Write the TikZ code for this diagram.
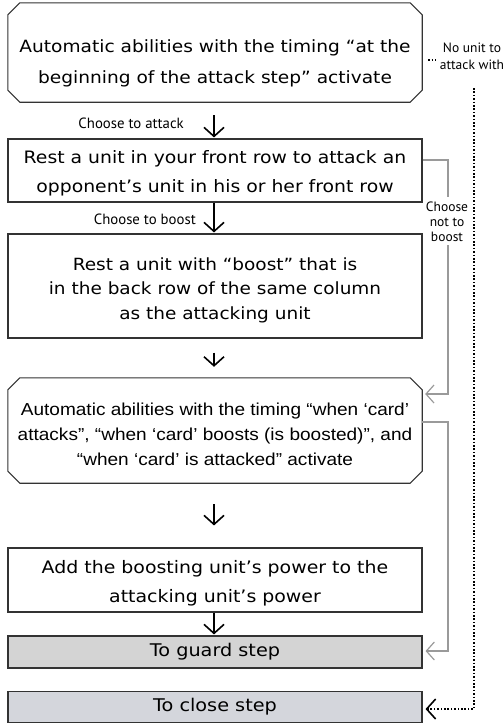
\documentclass[tikz,border=0pt]{standalone}
\usepackage{fontspec}
\setmainfont{DejaVu Sans}
\newfontfamily\boxfont[FakeStretch=1.1]{DejaVu Sans}
\newfontfamily\narrowfont[FakeStretch=1.1]{Liberation Sans}
\newfontfamily\notefont{PT Sans}
\usetikzlibrary{arrows.meta}

\definecolor{edge}{HTML}{333333}
\definecolor{guide}{HTML}{9A9A9A}
\definecolor{guardfill}{HTML}{D4D4D4}
\definecolor{closefill}{HTML}{D4D6DC}

% outline of a box with cut corners around an anchor node
\newcommand{\cutcorners}[1]{%
  \draw[boxline] ([xshift=12pt]#1.north west) -- ([xshift=-12pt]#1.north east)
    -- ([yshift=-12pt]#1.north east) -- ([yshift=12pt]#1.south east)
    -- ([xshift=-12pt]#1.south east) -- ([xshift=12pt]#1.south west)
    -- ([yshift=12pt]#1.south west) -- ([yshift=-12pt]#1.north west) -- cycle;}

\begin{document}
\begin{tikzpicture}[x=1pt,y=-1pt,
  boxline/.style={draw=edge, line width=1.1pt},
  frame/.style={rectangle, inner sep=0pt, minimum width=414pt},
  plainbox/.style={frame, boxline},
  boxtext/.style={align=center, inner sep=0pt},
  note/.style={font=\notefont\fontsize{14.8}{15}\selectfont, align=center, inner sep=0pt},
  sidenote/.style={font=\notefont\fontsize{13.5}{15}\selectfont, align=center, inner sep=0pt},
  flow/.style={line width=1.6pt, -{Straight Barb[length=9pt,width=20pt,line width=1.6pt]}},
  bypass/.style={guide, line width=1.2pt},
  bypassarrow/.style={bypass, -{Straight Barb[length=8pt,width=18pt,line width=1.2pt]}},
  skip/.style={line width=1.6pt, dash pattern=on 1.6pt off 1.8pt},
  skiparrow/.style={skip, -{Straight Barb[length=9pt,width=20pt,line width=1.6pt]}}
]
\useasboundingbox (0,0) rectangle (504,724);

% boxes of the attack step
\node[frame, minimum height=99pt] (b1) at (215,52.5) {};
\cutcorners{b1}
\node[boxtext, font=\boxfont\fontsize{16.9}{31}\selectfont] (b1t) at (215,63.5)
  {Automatic abilities with the timing “at the\\beginning of the attack step” activate};

\node[plainbox, minimum height=63pt] (b2) at (215,170.5) {};
\node[boxtext, font=\boxfont\fontsize{17.1}{29}\selectfont] (b2t) at (215,173)
  {Rest a unit in your front row to attack an\\opponent’s unit in his or her front row};

\node[plainbox, minimum height=104pt] (b3) at (215,286) {};
\node[boxtext, font=\boxfont\fontsize{16.8}{24.5}\selectfont] (b3t) at (215,290)
  {Rest a unit with “boost” that is\\in the back row of the same column\\as the attacking unit};

\node[frame, minimum height=105pt] (b4) at (215,430.5) {};
\cutcorners{b4}
\node[boxtext, font=\narrowfont\fontsize{17.3}{25}\selectfont] (b4t) at (215,434)
  {Automatic abilities with the timing “when ‘card’\\attacks”, “when ‘card’ boosts (is boosted)”, and\\“when ‘card’ is attacked” activate};

\node[plainbox, minimum height=64pt] (b5) at (215,580) {};
\node[boxtext, font=\boxfont\fontsize{17.2}{29}\selectfont] (b5t) at (215,583.5)
  {Add the boosting unit’s power to the\\attacking unit’s power};

\node[plainbox, fill=guardfill, minimum height=32pt, font=\boxfont\fontsize{17.5}{18}\selectfont] (b6) at (215,652) {To guard step};
\node[plainbox, fill=closefill, minimum height=31pt, font=\boxfont\fontsize{17.5}{18}\selectfont] (b7) at (215,707) {To close step};

% main flow
\node[note, anchor=east] (l1) at (184,123) {Choose to attack};
\node[note, anchor=east] (l2) at (196,219) {Choose to boost};
\draw[flow] ([yshift=-13pt]b1.south -| 214,0) -- ([yshift=1pt]b2.north -| 214,0);
\draw[flow] (b2.south -| 214,0) -- ([yshift=1pt]b3.north -| 214,0);
\draw[flow] ([yshift=-14pt]b3.south -| 214,0) -- ([yshift=11pt]b4.north -| 214,0);
\draw[flow] ([yshift=-21pt]b4.south -| 214,0) -- ([yshift=22pt]b5.north -| 214,0);
\draw[flow] (b5.south -| 214,0) -- ([yshift=1pt]b6.north -| 214,0);

% choosing not to boost
\node[sidenote] (nb) at (447,222) {Choose\\not to\\boost};
\coordinate (nbtop) at (448,197);
\coordinate (nbbot) at (448,245);
\draw[bypass] ([yshift=10.5pt]b2.east) -| (nbtop);
\draw[bypassarrow] (nbbot) |- ([xshift=3pt,yshift=36.5pt]b4.east);
\draw[bypassarrow] ([yshift=8.5pt]b4.east) -| (448,651) -- ([xshift=3pt,yshift=1pt]b6.east);

% no unit to attack with
\node[sidenote, font=\notefont\fontsize{13.5}{17}\selectfont] (nu) at (472,56) {No unit to\\attack with};
\draw[skip] ([xshift=6pt,yshift=-7.5pt]b1.east) -- ([xshift=14pt,yshift=-7.5pt]b1.east);
\coordinate (dtop) at (474,88);
\draw[skiparrow] (dtop) |- ([xshift=3pt,yshift=-2pt]b7.east);
\end{tikzpicture}
\end{document}
